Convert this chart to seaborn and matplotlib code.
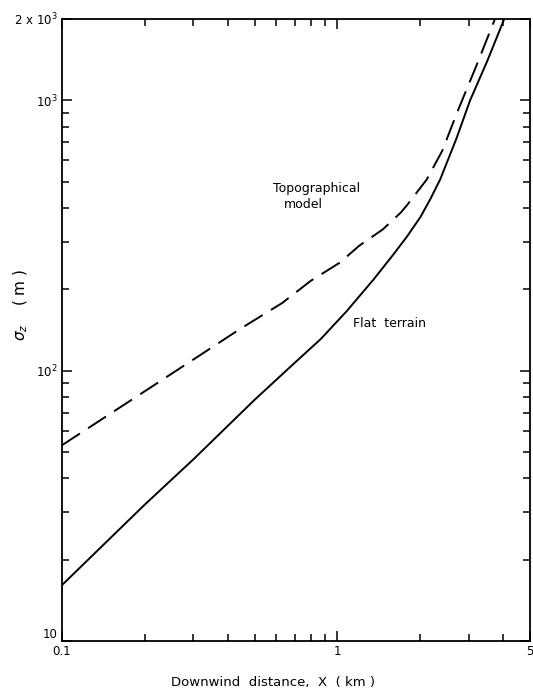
import numpy as np
import pandas as pd
import matplotlib
matplotlib.use('Agg')
import matplotlib.pyplot as plt
import seaborn as sns
from matplotlib.ticker import FixedLocator, NullFormatter

# values (km, m)
flat_x = [0.1, 0.2, 0.3, 0.5, 0.7, 0.87, 1.08, 1.35, 1.6, 1.79, 2.0, 2.17, 2.36, 2.7, 3.03, 3.5, 4.03]
flat_y = [16.1, 32, 47, 78, 107, 131, 166, 217, 270, 314, 370, 430, 510, 720, 1000, 1400, 2000]

topo_x = [0.1, 0.2, 0.3, 0.44, 0.63, 0.8, 1.02, 1.2, 1.46, 1.7, 1.79, 2.11, 2.4, 2.72, 3.2, 3.73]
topo_y = [53, 84, 110, 142, 178, 215, 251, 290, 333, 385, 410, 510, 650, 903, 1350, 2000]

x_major = [0.1, 1, 5]
x_major_labels = ['0.1', '1', '5']
x_minor = [0.2, 0.3, 0.4, 0.5, 0.6, 0.7, 0.8, 0.9, 2, 3, 4]
y_major = [10, 100, 1000, 2000]
y_major_labels = ['10', r'$\mathregular{10^2}$', r'$\mathregular{10^3}$', r'$\mathregular{2\ x\ 10^3}$']
y_minor = [20, 30, 40, 50, 60, 70, 80, 90, 200, 300, 400, 500, 600, 700, 800, 900]

sns.set_style('ticks')
plt.rcParams['font.family'] = ['DejaVu Sans']
plt.rcParams['text.color'] = 'black'
plt.rcParams['axes.labelcolor'] = 'black'

flat = pd.DataFrame({'x': flat_x, 'y': flat_y})
topo = pd.DataFrame({'x': topo_x, 'y': topo_y})

fig = plt.figure(figsize=(5.33, 6.9), dpi=100)
ax = fig.add_axes([0.1163, 0.071, 0.8781, 0.9015])

sns.lineplot(data=flat, x='x', y='y', ax=ax, color='black', lw=1.4, sort=False)
sns.lineplot(data=topo, x='x', y='y', ax=ax, color='black', lw=1.4, sort=False,
             linestyle=(0, (11, 5)))

ax.set_xscale('log')
ax.set_yscale('log')
ax.set_xlim(0.1, 5)
ax.set_ylim(10, 2000)

ax.xaxis.set_major_locator(FixedLocator(x_major))
ax.set_xticklabels(x_major_labels)
ax.xaxis.set_minor_locator(FixedLocator(x_minor))
ax.xaxis.set_minor_formatter(NullFormatter())
ax.yaxis.set_major_locator(FixedLocator(y_major))
ax.set_yticklabels(y_major_labels)
ax.yaxis.set_minor_locator(FixedLocator(y_minor))
ax.yaxis.set_minor_formatter(NullFormatter())

ax.tick_params(which='both', direction='in', top=True, right=True, width=1.1, colors='black')
ax.tick_params(which='major', length=7, labelsize=8.5, pad=3)
ax.tick_params(which='minor', length=5)
# bottom "10" sits above the corner, like the original
ax.get_yticklabels()[0].set_va('bottom')

for s in ax.spines.values():
    s.set_linewidth(1.3)
    s.set_color('black')

ax.set_xlabel('Downwind  distance,  X  ( km )', fontsize=9.5)
ax.xaxis.set_label_coords(0.45, -0.056)
ax.set_ylabel(r'$\sigma_z$    ( m )', fontsize=11)
ax.yaxis.set_label_coords(-0.068, 0.54)

ax.text(0.843, 472, 'Topographical', fontsize=9, ha='center', va='center')
ax.text(0.75, 412, 'model', fontsize=9, ha='center', va='center')
ax.text(1.14, 149, 'Flat  terrain', fontsize=9, ha='left', va='center')

fig.savefig('out.png', dpi=100)
